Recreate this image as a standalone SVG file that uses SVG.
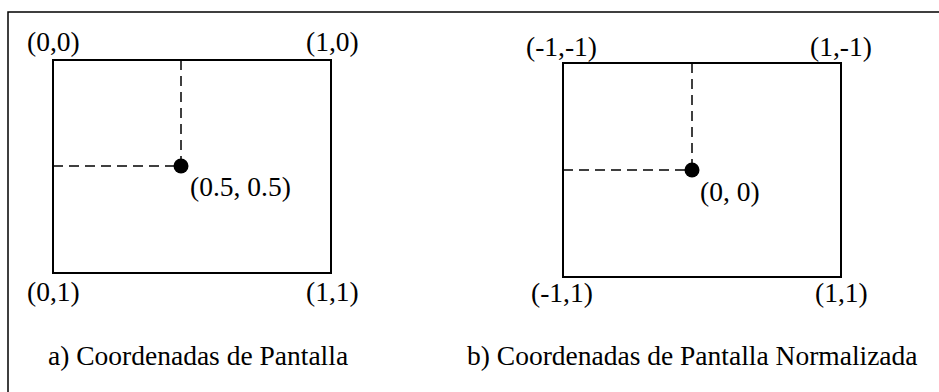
<svg xmlns="http://www.w3.org/2000/svg" width="939" height="392" viewBox="0 0 939 392">
  <style>
    .frame { fill: none; stroke: #000; stroke-width: 1.5; }
    .box { fill: none; stroke: #000; stroke-width: 2; }
    .guide { fill: none; stroke: #000; stroke-width: 1.5; stroke-dasharray: 10 6; }
    .pt { fill: #000; }
    .lbl { font-family: 'Liberation Serif', 'Times New Roman', serif; font-size: 27.5px; fill: #000; }
  </style>
  <rect width="939" height="392" fill="#fff"/>
  <!-- outer frame (right and bottom edges run off the canvas) -->
  <rect class="frame" x="8" y="12" width="940" height="390"/>

  <!-- a) screen coordinates -->
  <g id="screen">
    <rect class="box" x="53" y="60" width="278" height="213"/>
    <text class="lbl" x="27" y="51">(0,0)</text>
    <text class="lbl" x="306" y="51">(1,0)</text>
    <text class="lbl" x="27" y="301">(0,1)</text>
    <text class="lbl" x="306" y="301">(1,1)</text>
    <text class="lbl" x="48" y="365">a) Coordenadas de Pantalla</text>
  </g>
  <g id="screen-point">
    <circle class="pt" cx="181" cy="166" r="7.5"/>
    <text class="lbl" x="190" y="196">(0.5, 0.5)</text>
  </g>

  <!-- b) normalized screen coordinates -->
  <g id="normalized">
    <rect class="box" x="563" y="63" width="278" height="214"/>
    <text class="lbl" x="526" y="56">(-1,-1)</text>
    <text class="lbl" x="810" y="56">(1,-1)</text>
    <text class="lbl" x="531" y="302">(-1,1)</text>
    <text class="lbl" x="815" y="302">(1,1)</text>
    <text class="lbl" x="467" y="365">b) Coordenadas de Pantalla Normalizada</text>
  </g>
  <g id="normalized-point">
    <circle class="pt" cx="692" cy="170" r="7.5"/>
    <text class="lbl" x="700" y="201">(0, 0)</text>
  </g>

  <!-- dashed projection lines -->
  <g id="connectors">
    <path class="guide" d="M181 60 V166"/>
    <path class="guide" d="M53 166 H181"/>
    <path class="guide" d="M692 63 V170"/>
    <path class="guide" d="M563 170 H692"/>
  </g>
</svg>
